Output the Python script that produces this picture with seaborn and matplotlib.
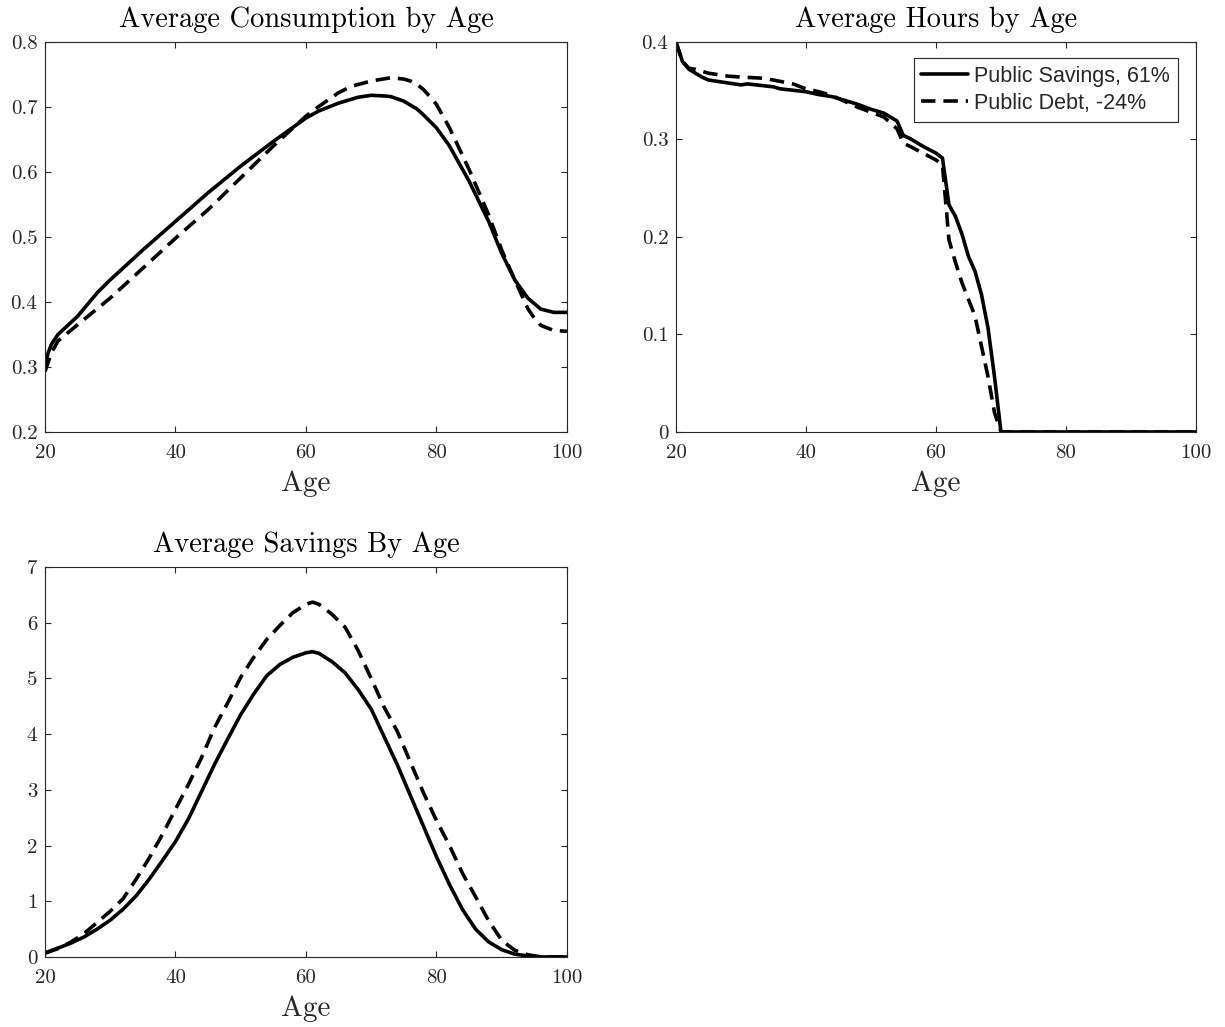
import numpy as np
import pandas as pd
import matplotlib
matplotlib.use("Agg")
import matplotlib.pyplot as plt
import seaborn as sns

# ---------------- data ----------------
labels = ["Public Savings, 61%", "Public Debt, -24%"]

cons_age = [20, 20.5, 21, 22, 25, 28, 30, 35, 40, 45, 50, 55, 60, 62, 65, 67, 68, 70, 72, 73, 75, 77, 78, 80,
            82, 85, 88, 90, 92, 94, 96, 98, 100]
cons_sav = [0.303, 0.322, 0.335, 0.350, 0.378, 0.414, 0.434, 0.480, 0.524, 0.568, 0.609, 0.647, 0.683, 0.694,
            0.706, 0.712, 0.715, 0.718, 0.717, 0.716, 0.709, 0.697, 0.688, 0.668, 0.640, 0.586, 0.524, 0.475,
            0.434, 0.406, 0.389, 0.384, 0.384]
cons_debt_age = [20, 21, 22, 25, 30, 35, 40, 45, 50, 55, 60, 62, 65, 67, 70, 73, 75, 76, 77, 78, 79, 80, 82, 85,
                 88, 90, 92, 94, 95, 96, 98, 100]
cons_debt = [0.293, 0.322, 0.340, 0.365, 0.406, 0.452, 0.498, 0.542, 0.591, 0.640, 0.686, 0.701, 0.722, 0.732,
             0.740, 0.745, 0.743, 0.740, 0.735, 0.727, 0.716, 0.704, 0.668, 0.604, 0.534, 0.480, 0.434, 0.390,
             0.375, 0.364, 0.356, 0.355]

hours_age = [20, 21, 22, 23, 24, 25, 27, 30, 31, 35, 36, 40, 42, 44, 46, 48, 50, 52, 54, 55, 56, 58, 60, 61,
             62, 63, 64, 65, 66, 67, 68, 69, 70, 75, 80, 85, 90, 95, 100]
hours_sav = [0.400, 0.380, 0.372, 0.368, 0.364, 0.361, 0.359, 0.356, 0.357, 0.354, 0.352, 0.349, 0.346, 0.344,
             0.340, 0.336, 0.331, 0.327, 0.319, 0.304, 0.301, 0.293, 0.286, 0.281,
             0.233, 0.221, 0.203, 0.180, 0.165, 0.141, 0.107, 0.057, 0.0, 0.0, 0.0, 0.0, 0.0, 0.0, 0.0]
hours_debt_age = [20, 21, 22, 23, 25, 28, 30, 33, 35, 38, 40, 42, 44, 46, 48, 50, 52, 53, 54, 55, 56, 58, 60, 61,
                  62, 63, 64, 65, 66, 67, 68, 69, 70, 75, 80, 85, 90, 95, 100]
hours_debt = [0.400, 0.380, 0.373, 0.372, 0.368, 0.365, 0.364, 0.363, 0.361, 0.357, 0.352, 0.349, 0.345, 0.339,
              0.333, 0.328, 0.323, 0.317, 0.311, 0.296, 0.293, 0.286, 0.279, 0.274,
              0.197, 0.174, 0.153, 0.136, 0.119, 0.088, 0.057, 0.020, 0.0, 0.0, 0.0, 0.0, 0.0, 0.0, 0.0]

sav_age = [20, 22, 24, 26, 28, 30, 32, 34, 36, 38, 40, 42, 44, 46, 48, 50, 52, 54, 56, 58, 60, 61, 62, 64, 66,
           68, 70, 72, 74, 76, 78, 80, 82, 84, 86, 88, 90, 92, 94, 96, 98, 100]
sav_sav = [0.07, 0.16, 0.25, 0.36, 0.50, 0.66, 0.86, 1.10, 1.40, 1.73, 2.07, 2.48, 2.97, 3.46, 3.91, 4.35, 4.72,
           5.05, 5.25, 5.38, 5.46, 5.48, 5.45, 5.30, 5.10, 4.80, 4.45, 3.95, 3.45, 2.90, 2.35, 1.80, 1.30, 0.85,
           0.50, 0.27, 0.13, 0.05, 0.02, 0.0, 0.0, 0.0]
sav_debt = [0.07, 0.15, 0.27, 0.42, 0.62, 0.82, 1.05, 1.40, 1.78, 2.20, 2.65, 3.10, 3.58, 4.12, 4.56, 5.02, 5.38,
            5.70, 5.95, 6.18, 6.33, 6.37, 6.33, 6.15, 5.92, 5.50, 5.00, 4.48, 4.05, 3.50, 2.95, 2.45, 2.00, 1.50,
            1.08, 0.65, 0.30, 0.12, 0.04, 0.0, 0.0, 0.0]

xticks = [20, 40, 60, 80, 100]
cons_yticks = [0.2, 0.3, 0.4, 0.5, 0.6, 0.7, 0.8]
hours_yticks = [0, 0.1, 0.2, 0.3, 0.4]
sav_yticks = [0, 1, 2, 3, 4, 5, 6, 7]


def long_df(a1, v1, a2, v2):
    return pd.concat([
        pd.DataFrame({"Age": a1, "val": v1, "policy": labels[0]}),
        pd.DataFrame({"Age": a2, "val": v2, "policy": labels[1]}),
    ], ignore_index=True)


df_cons = long_df(cons_age, cons_sav, cons_debt_age, cons_debt)
df_hours = long_df(hours_age, hours_sav, hours_debt_age, hours_debt)
df_sav = long_df(sav_age, sav_sav, sav_age, sav_debt)

# ---------------- style ----------------
sns.set_style("ticks")
plt.rcParams["font.family"] = ["cmr10", "DejaVu Serif"]
plt.rcParams["axes.formatter.use_mathtext"] = True
plt.rcParams["mathtext.fontset"] = "cm"
edge = "#262626"
plt.rcParams.update({
    "axes.edgecolor": edge, "xtick.color": edge, "ytick.color": edge,
    "axes.linewidth": 0.8, "xtick.direction": "in", "ytick.direction": "in",
    "xtick.top": True, "ytick.right": True,
    "xtick.major.size": 4.5, "ytick.major.size": 4.5,
    "xtick.major.width": 0.8, "ytick.major.width": 0.8,
})

dash_map = {labels[0]: "", labels[1]: (4, 2.2)}
LW = 2.6

fig = plt.figure(figsize=(12.25, 10.27), dpi=100)
ax1 = fig.add_axes([0.0367, 0.5794, 0.4261, 0.3797])
ax2 = fig.add_axes([0.5518, 0.5794, 0.4245, 0.3797])
ax3 = fig.add_axes([0.0367, 0.0682, 0.4261, 0.3797])

specs = [
    (ax1, df_cons, "Average Consumption by Age", (0.2, 0.8), cons_yticks, ["0.2", "0.3", "0.4", "0.5", "0.6", "0.7", "0.8"]),
    (ax2, df_hours, "Average Hours by Age", (0, 0.4), hours_yticks, ["0", "0.1", "0.2", "0.3", "0.4"]),
    (ax3, df_sav, "Average Savings By Age", (0, 7), sav_yticks, [str(v) for v in sav_yticks]),
]

for ax, df, title, ylim, yt, ytl in specs:
    sns.lineplot(data=df, x="Age", y="val", style="policy", style_order=labels, dashes=dash_map,
                 color="black", linewidth=LW, ax=ax, legend=(ax is ax2), sort=True)
    ax.set_xlim(20, 100)
    ax.set_ylim(*ylim)
    ax.set_xticks(xticks)
    ax.set_xticklabels([str(v) for v in xticks])
    ax.set_yticks(yt)
    ax.set_yticklabels(ytl)
    ax.tick_params(axis="x", labelsize=15, pad=9)
    ax.tick_params(axis="y", labelsize=15, pad=5.5)
    ax.set_title(title, fontsize=20.5, pad=10.5, color="black")
    ax.set_xlabel("Age", fontsize=21, labelpad=6, color=edge)
    ax.set_ylabel("")
    for s in ax.spines.values():
        s.set_visible(True)
        s.set_color(edge)

handles, lbls = ax2.get_legend_handles_labels()
leg = ax2.legend(handles, lbls, loc="upper right", bbox_to_anchor=(0.965, 0.959),
                 prop={"family": ["Liberation Sans", "DejaVu Sans"], "size": 15.5},
                 frameon=True, fancybox=False, edgecolor=edge, framealpha=1,
                 handlelength=2.2, handletextpad=0.28, borderpad=0.35, labelspacing=0.3,
                 borderaxespad=0.0)
leg.get_frame().set_linewidth(0.8)
for h in leg.get_lines():
    h.set_linewidth(LW)

fig.savefig("out.png", dpi=100)
